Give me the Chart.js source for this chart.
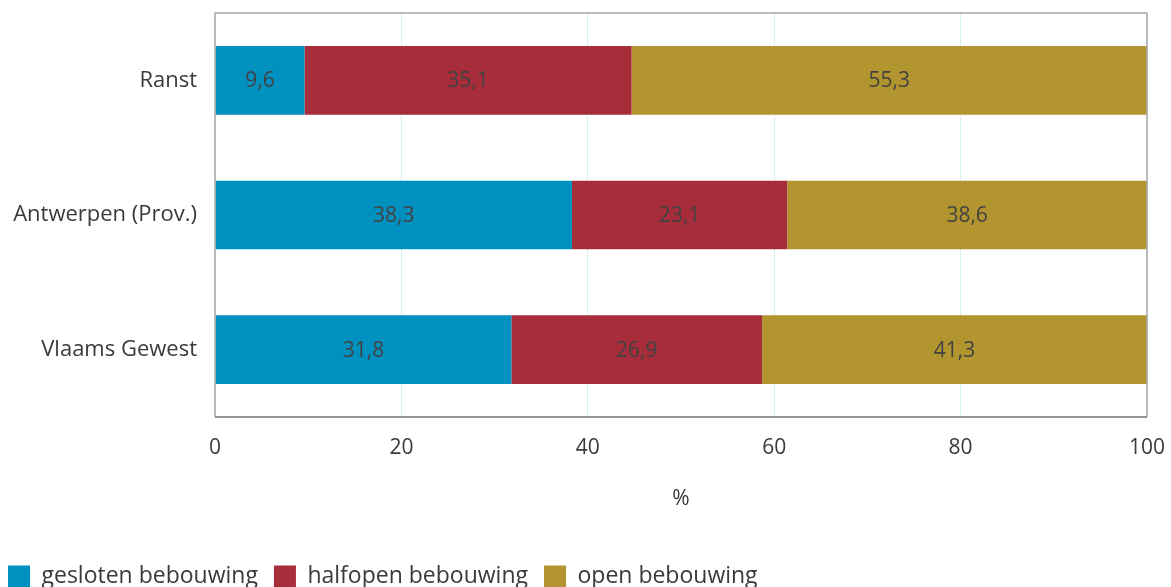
<!DOCTYPE html>
<html>
<head>
<meta charset="utf-8">
<script src="https://cdn.jsdelivr.net/npm/chart.js@4.4.0/dist/chart.umd.min.js"></script>
<style>
  html, body { margin: 0; padding: 0; background: #ffffff; overflow: hidden; }
  #c { position: absolute; left: -8px; top: 0; }
</style>
</head>
<body>
<canvas id="c" width="1179" height="598"></canvas>
<script>
const categories = ["Ranst", "Antwerpen (Prov.)", "Vlaams Gewest"];
const seriesNames = ["gesloten bebouwing", "halfopen bebouwing", "open bebouwing"];
const gesloten = [9.6, 38.3, 31.8];
const halfopen = [35.1, 23.1, 26.9];
const open = [55.3, 38.6, 41.3];
const xTicks = [0, 20, 40, 60, 80, 100];
const axisTitle = "%";

const colors = ["#0091c1", "#a72d3a", "#b2952e"];
const FONT = "'Open Sans', sans-serif";
const TEXT = "#3a3a3a";

const valueLabels = {
  id: 'valueLabels',
  afterDatasetsDraw(chart) {
    const ctx = chart.ctx;
    ctx.save();
    ctx.font = "21px " + FONT;
    ctx.fillStyle = "#424242";
    ctx.textAlign = "center";
    ctx.textBaseline = "middle";
    chart.data.datasets.forEach((ds, i) => {
      const meta = chart.getDatasetMeta(i);
      meta.data.forEach((el, j) => {
        const p = el.getCenterPoint();
        ctx.fillText(String(ds.data[j]).replace('.', ','), p.x, p.y + 1);
      });
    });
    ctx.restore();
  }
};

const frame = {
  id: 'frame',
  afterDraw(chart) {
    const a = chart.chartArea;
    const ctx = chart.ctx;
    ctx.save();
    ctx.strokeStyle = "#a8a8a8";
    ctx.lineWidth = 1.5;
    ctx.beginPath();
    ctx.moveTo(a.left, a.bottom);
    ctx.lineTo(a.left, a.top);
    ctx.lineTo(a.right, a.top);
    ctx.lineTo(a.right, a.bottom);
    ctx.stroke();
    ctx.strokeStyle = "#969696";
    ctx.lineWidth = 2;
    ctx.beginPath();
    ctx.moveTo(a.left, a.bottom);
    ctx.lineTo(a.right, a.bottom);
    ctx.stroke();
    ctx.restore();
  }
};

new Chart(document.getElementById('c'), {
  type: 'bar',
  data: {
    labels: categories,
    datasets: [
      { label: seriesNames[0], data: gesloten, backgroundColor: colors[0] },
      { label: seriesNames[1], data: halfopen, backgroundColor: colors[1] },
      { label: seriesNames[2], data: open, backgroundColor: colors[2] }
    ]
  },
  options: {
    indexAxis: 'y',
    responsive: false,
    animation: false,
    devicePixelRatio: 1,
    layout: { padding: { top: 13, right: 24, left: 0, bottom: 0 } },
    datasets: { bar: { barPercentage: 0.51, categoryPercentage: 1.0 } },
    scales: {
      x: {
        stacked: true,
        min: 0, max: 100,
        afterBuildTicks(scale) { scale.ticks = xTicks.map(v => ({ value: v })); },
        afterFit(scale) { scale.height = 132; scale.paddingLeft = 0; scale.paddingRight = 0; },
        grid: { color: "#d8eff8", lineWidth: 1, drawTicks: false },
        border: { display: false },
        ticks: { padding: 18, color: TEXT, font: { family: FONT, size: 21 } },
        title: { display: true, text: axisTitle, color: TEXT, font: { family: FONT, size: 21 }, padding: { top: 0, bottom: 37 } }
      },
      y: {
        stacked: true,
        afterFit(scale) { scale.width = 223; scale.paddingTop = 0; scale.paddingBottom = 0; },
        grid: { display: false, drawTicks: false },
        border: { display: false },
        ticks: { padding: 18, color: TEXT, font: { family: FONT, size: 22 } }
      }
    },
    plugins: {
      legend: {
        position: 'bottom',
        align: 'start',
        labels: { boxWidth: 22, boxHeight: 22, padding: 16, color: TEXT, font: { family: FONT, size: 23 } }
      },
      tooltip: { enabled: false }
    }
  },
  plugins: [valueLabels, frame]
});
</script>
</body>
</html>
